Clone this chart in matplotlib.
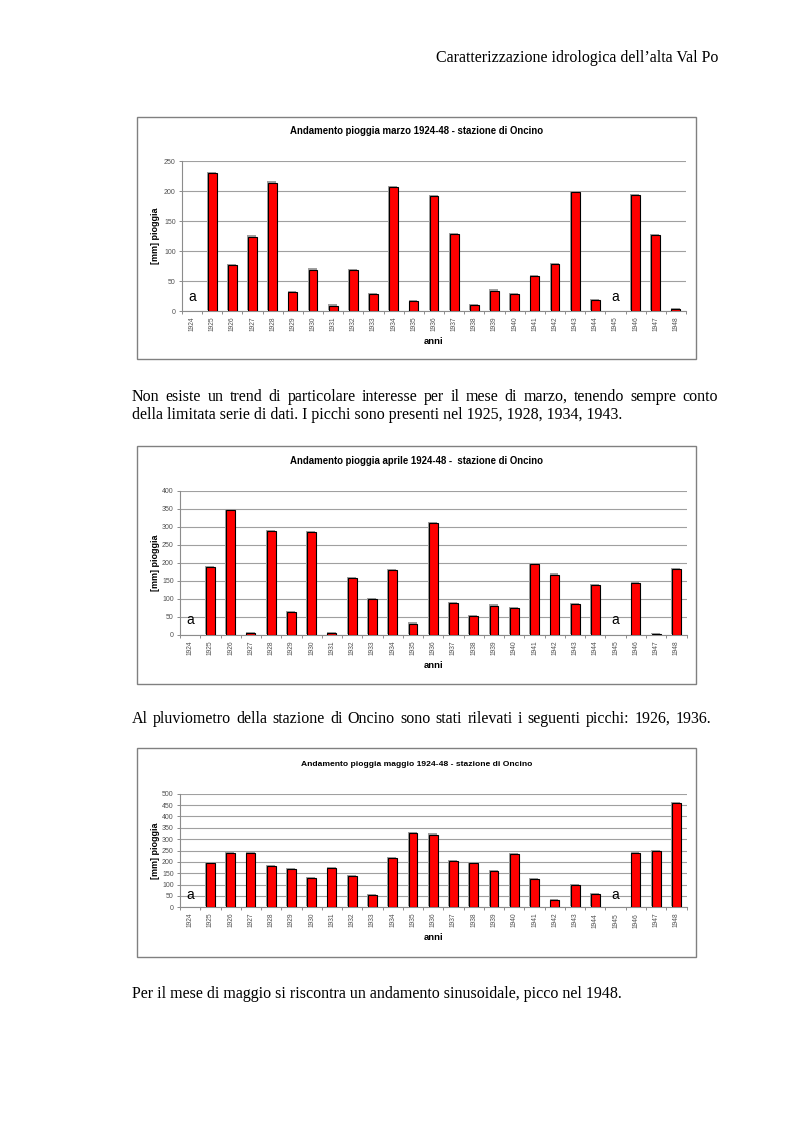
"""Pioggia mensile marzo / aprile / maggio 1924-48, stazione di Oncino."""

import matplotlib
matplotlib.use("Agg")
import matplotlib.pyplot as plt
import matplotlib.patheffects as pe
from matplotlib.patches import Rectangle

W, H = 793, 1123

anni = ["1924", "1925", "1926", "1927", "1928", "1929", "1930", "1931", "1932",
        "1933", "1934", "1935", "1936", "1937", "1938", "1939", "1940", "1941",
        "1942", "1943", "1944", "1945", "1946", "1947", "1948"]

# None = dato assente ("a")
marzo = [None, 230, 77, 124, 214, 31, 69, 9, 68, 28, 207, 17, 191, 128,
         10, 34, 28, 58, 78, 198, 18, None, 193, 127, 3]
aprile = [None, 189, 345, 5, 289, 64, 286, 4, 157, 99, 180, 31, 309, 89,
          52, 81, 75, 197, 167, 86, 137, None, 144, 2, 183]
maggio = [None, 193, 238, 237, 183, 167, 130, 171, 136, 54, 218, 325, 320,
          205, 194, 161, 235, 124, 31, 99, 58, None, 240, 249, 458]

SANS = "Liberation Sans"
SERIF = "Liberation Serif"
GRAY = "#8c8c8c"

fig = plt.figure(figsize=(W / 100, H / 100), dpi=100)


def fx(x):
    return x / W


def fy(y):
    return 1 - y / H


def chart(values, ymax, ystep, box, area, title, title_y, title_size,
          anni_y, a_off):
    # riquadro del grafico
    bx0, by0, bx1, by1 = box
    fig.add_artist(Rectangle((fx(bx0), fy(by1)), (bx1 - bx0) / W, (by1 - by0) / H,
                             transform=fig.transFigure, fill=False,
                             edgecolor="#808080", lw=1.0))
    l, t, r, b = area
    ax = fig.add_axes([fx(l), fy(b), (r - l) / W, (b - t) / H])
    xs = [i for i, v in enumerate(values) if v is not None]
    hs = [v for v in values if v is not None]
    bars = ax.bar(xs, hs, width=0.44, color="#ff0000", edgecolor="black",
                  linewidth=0.8, zorder=3)
    for p in bars:
        p.set_path_effects([pe.SimplePatchShadow(offset=(-0.6, 0.8),
                                                 shadow_rgbFace="#a0a0a0", alpha=1),
                            pe.Normal()])
    for i, v in enumerate(values):
        if v is None:
            ax.annotate("a", xy=(i, 0), xytext=(0, a_off), textcoords="offset points",
                        ha="center", va="center", fontsize=10, family=SANS)

    ax.set_xlim(-0.5, len(anni) - 0.5)
    ax.set_ylim(0, ymax)
    ax.set_yticks(range(0, ymax + 1, ystep))
    ax.yaxis.grid(True, color="#a0a0a0", lw=0.8, zorder=0)
    ax.set_axisbelow(True)
    for s in ("top", "right"):
        ax.spines[s].set_visible(False)
    for s in ("left", "bottom"):
        ax.spines[s].set_color(GRAY)
        ax.spines[s].set_linewidth(0.8)

    ax.set_xticks(range(len(anni)))
    ax.set_xticklabels(anni, rotation=90, fontsize=4.8, family=SANS, color="#505050")
    ax.set_xticks([i - 0.5 for i in range(len(anni) + 1)], minor=True)
    ax.tick_params(axis="x", which="major", length=0, pad=4)
    ax.tick_params(axis="x", which="minor", length=2.5, color=GRAY, width=0.7)
    ax.tick_params(axis="y", length=2.5, color=GRAY, width=0.7, pad=2,
                   labelsize=5.0, labelcolor="#505050")
    for lab in ax.get_yticklabels():
        lab.set_family(SANS)

    fig.text(fx((l + r) / 2 - 17), fy(title_y), title, ha="center", va="center",
             fontsize=title_size, fontweight="bold", family=SANS)
    fig.text(fx(155), fy((t + b) / 2), "[mm] pioggia", rotation=90, ha="center",
             va="center", fontsize=6.5, fontweight="bold", family=SANS)
    fig.text(fx((l + r) / 2), fy(anni_y), "anni", ha="center", va="center",
             fontsize=6.8, fontweight="bold", family=SANS)
    return ax


chart(marzo, 250, 50, (137, 117, 696, 359), (182, 161, 686, 311),
      "Andamento pioggia marzo 1924-48 - stazione di Oncino", 131, 6.9, 341, 10)
chart(aprile, 400, 50, (137, 446, 696, 684), (180, 490.7, 686.5, 634.7),
      "Andamento pioggia aprile 1924-48 -  stazione di Oncino", 461, 6.9, 665, 10.5)
chart(maggio, 500, 50, (137, 748, 696, 957), (180, 793.7, 686.5, 907.3),
      "Andamento pioggia maggio 1924-48 - stazione di Oncino", 764, 6.1, 938, 8.5)

# testo della pagina
TXT = dict(family=SERIF, fontsize=11.5, va="baseline")
fig.text(fx(718), fy(62), "Caratterizzazione idrologica dell\u2019alta Val Po",
         ha="right", **TXT)


def justify(line, x0, x1, y):
    words = line.split()
    texts = [fig.text(0, fy(y), w, ha="left", **TXT) for w in words]
    renderer = fig.canvas.get_renderer()
    widths = [t.get_window_extent(renderer).width for t in texts]
    gap = (x1 - x0 - sum(widths)) / (len(words) - 1)
    x = x0
    for t, w in zip(texts, widths):
        t.set_x(fx(x))
        x += w + gap


justify("Non esiste un trend di particolare interesse per il mese di marzo, "
        "tenendo sempre conto", 132, 718, 401)
fig.text(fx(132), fy(419), "della limitata serie di dati. I picchi sono presenti "
         "nel 1925, 1928, 1934, 1943.", **TXT)
justify("Al pluviometro della stazione di Oncino sono stati "
        "rilevati i seguenti picchi: 1926, 1936.", 132, 711, 723)
fig.text(fx(132), fy(998), "Per il mese di maggio si riscontra un andamento "
         "sinusoidale, picco nel 1948.", **TXT)

fig.savefig("out.png", dpi=100)
